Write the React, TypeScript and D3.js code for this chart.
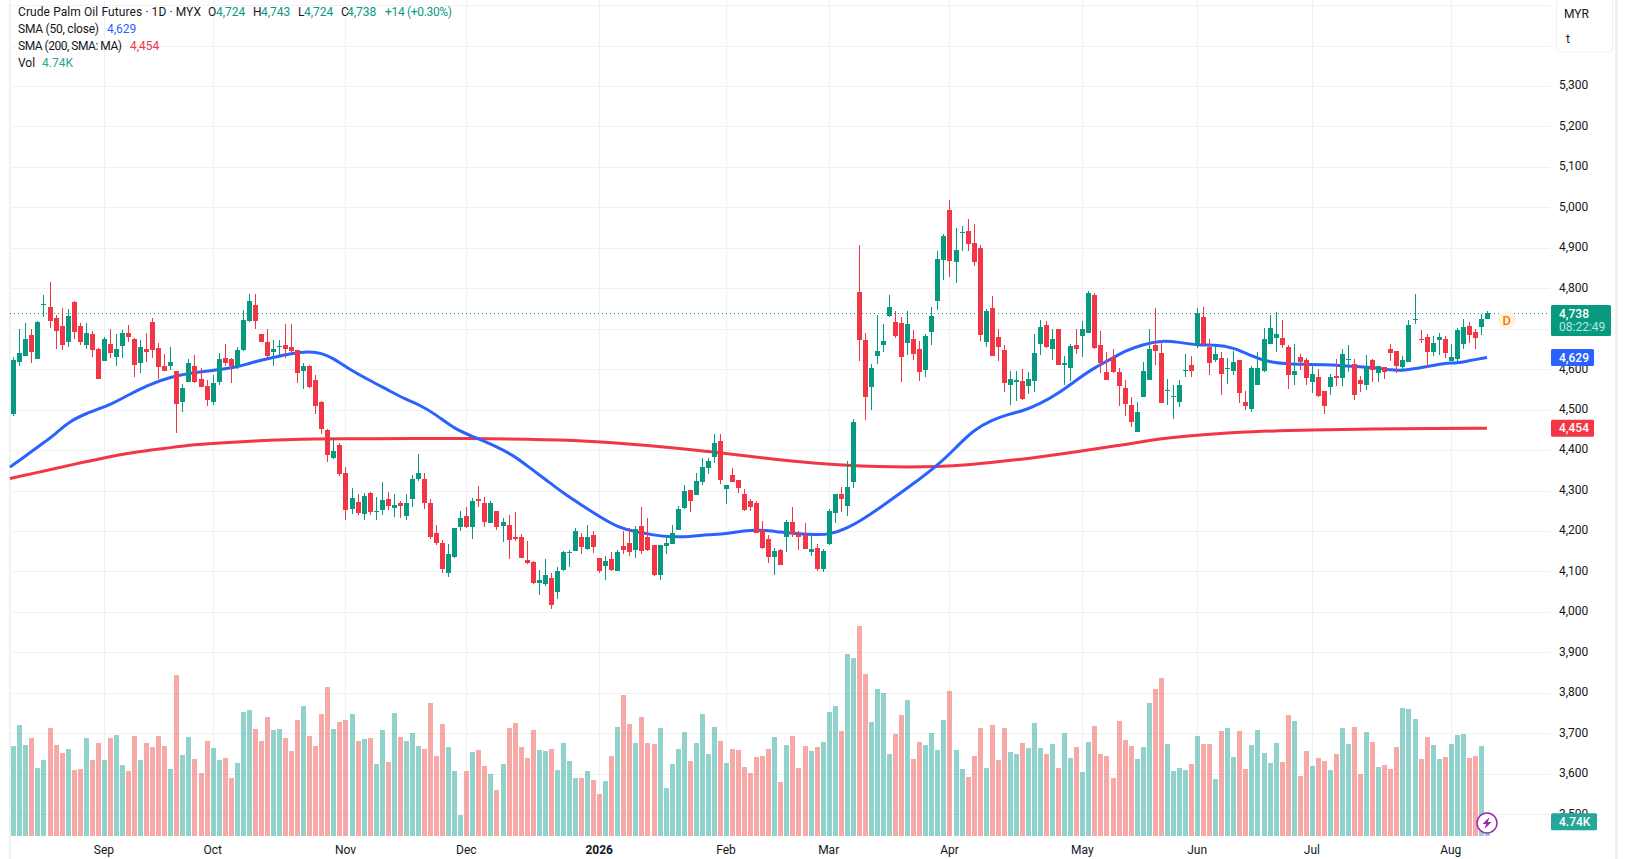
import React, { useEffect, useRef } from 'react';
import * as d3 from 'd3';

// Daily bars, oldest first
const opens = [
  4490,4618,4633,4685,4625,4760,4754,4727,4707,4667,4766,4707,4660,4687,4650,4620,4662,4630,4657,4690,
  4675,4615,4650,4717,4652,4608,4608,4596,4519,4568,4608,4576,4559,4519,4568,4628,4625,4606,4648,4719,
  4759,4687,4667,4643,4655,4660,4655,4648,4596,4608,4573,4519,4450,4381,4413,4344,4255,4272,4242,4294,
  4247,4252,4279,4257,4270,4236,4280,4329,4329,4270,4196,4171,4097,4137,4211,4236,4211,4280,4270,4221,
  4250,4213,4216,4186,4184,4129,4124,4072,4070,4085,4050,4104,4146,4151,4186,4156,4189,4134,4114,4132,
  4102,4164,4171,4154,4213,4186,4166,4092,4164,4169,4203,4258,4302,4290,4322,4357,4384,4423,4305,4339,
  4327,4292,4275,4270,4203,4181,4137,4154,4184,4223,4193,4191,4149,4159,4105,4168,4245,4291,4261,4320,
  4791,4672,4556,4633,4660,4732,4717,4714,4665,4675,4650,4598,4692,4769,4870,4994,4865,4937,4942,4912,
  4900,4667,4751,4680,4648,4561,4568,4571,4559,4571,4662,4709,4650,4699,4610,4603,4660,4682,4690,4784,
  4660,4593,4630,4593,4554,4512,4446,4532,4573,4660,4640,4546,4532,4520,4596,4610,4660,4729,4655,4623,
  4628,4601,4596,4623,4520,4502,4561,4596,4662,4677,4677,4655,4586,4630,4623,4568,4581,4545,4556,4583,
  4578,4623,4613,4573,4561,4623,4591,4606,4650,4645,4606,4618,4722,4674,4680,4643,4672,4675,4620,4625,
  4662,4707,4692,4704,4724,
];
const highs = [
  4630,4700,4714,4700,4719,4784,4816,4734,4751,4749,4769,4714,4714,4695,4652,4680,4700,4687,4697,4709,
  4677,4672,4690,4727,4665,4638,4655,4596,4564,4625,4635,4603,4573,4586,4640,4662,4628,4655,4746,4786,
  4786,4687,4700,4672,4672,4712,4712,4648,4615,4610,4586,4521,4452,4428,4418,4358,4306,4292,4293,4297,
  4284,4321,4297,4292,4273,4292,4339,4391,4344,4280,4216,4179,4169,4208,4250,4260,4281,4312,4285,4273,
  4250,4233,4240,4248,4193,4176,4126,4104,4132,4097,4111,4151,4154,4207,4196,4216,4201,4134,4139,4149,
  4154,4201,4208,4213,4260,4233,4166,4166,4191,4216,4263,4315,4302,4344,4381,4381,4441,4441,4315,4357,
  4327,4305,4280,4275,4226,4189,4159,4156,4228,4260,4201,4221,4193,4169,4155,4254,4291,4308,4372,4476,
  4907,4690,4613,4734,4712,4784,4744,4729,4744,4697,4670,4687,4754,4892,4934,5018,4949,4954,4971,4959,
  4907,4749,4781,4699,4660,4596,4596,4601,4593,4687,4722,4719,4699,4699,4633,4662,4699,4719,4793,4788,
  4695,4643,4650,4603,4573,4532,4520,4618,4699,4751,4672,4576,4561,4573,4638,4633,4751,4754,4675,4660,
  4643,4628,4645,4623,4545,4608,4643,4702,4734,4741,4722,4660,4662,4638,4628,4610,4601,4546,4588,4625,
  4650,4660,4625,4583,4635,4625,4608,4606,4662,4645,4633,4722,4786,4697,4687,4682,4690,4682,4662,4702,
  4724,4717,4699,4736,4743,
];
const lows = [
  4485,4608,4632,4615,4625,4729,4702,4650,4648,4655,4675,4660,4650,4630,4576,4620,4628,4608,4628,4667,
  4581,4591,4618,4628,4576,4596,4598,4442,4494,4568,4566,4556,4509,4512,4561,4608,4566,4601,4645,4717,
  4700,4667,4628,4608,4635,4628,4643,4566,4551,4554,4489,4440,4371,4378,4336,4227,4242,4240,4227,4240,
  4227,4240,4252,4234,4233,4228,4260,4324,4255,4181,4166,4095,4087,4134,4201,4208,4181,4260,4211,4219,
  4203,4174,4132,4176,4134,4119,4070,4042,4065,4007,4032,4102,4112,4151,4142,4154,4146,4095,4080,4102,
  4102,4142,4139,4134,4142,4151,4090,4080,4144,4169,4203,4255,4248,4290,4315,4342,4367,4317,4268,4320,
  4295,4250,4250,4195,4156,4122,4092,4115,4149,4184,4154,4156,4139,4102,4098,4165,4219,4246,4236,4306,
  4620,4475,4499,4613,4643,4729,4677,4568,4635,4623,4571,4581,4660,4746,4821,4828,4813,4892,4892,4855,
  4670,4655,4633,4620,4544,4512,4521,4524,4539,4544,4635,4652,4623,4610,4561,4571,4638,4630,4690,4650,
  4591,4573,4591,4509,4485,4458,4446,4532,4573,4610,4517,4512,4478,4507,4581,4581,4653,4657,4586,4618,
  4537,4564,4586,4517,4500,4493,4561,4593,4662,4643,4652,4551,4561,4598,4561,4540,4532,4490,4536,4559,
  4559,4593,4525,4544,4549,4568,4568,4576,4620,4591,4596,4618,4712,4666,4603,4633,4635,4628,4620,4618,
  4650,4665,4650,4685,4724,
];
const closes = [
  4623,4640,4675,4643,4717,4761,4719,4695,4660,4732,4692,4667,4690,4648,4576,4675,4640,4650,4690,4680,
  4610,4655,4643,4648,4606,4596,4618,4514,4554,4615,4568,4556,4524,4566,4625,4615,4608,4648,4722,4769,
  4719,4667,4633,4650,4657,4650,4645,4591,4608,4556,4509,4452,4388,4398,4341,4252,4282,4245,4287,4247,
  4250,4277,4262,4264,4263,4270,4329,4344,4270,4184,4171,4107,4142,4208,4233,4211,4275,4273,4223,4270,
  4211,4223,4179,4181,4134,4122,4072,4080,4092,4017,4102,4149,4149,4201,4161,4186,4161,4102,4127,4104,
  4149,4154,4149,4206,4151,4154,4092,4166,4171,4196,4255,4300,4273,4324,4359,4374,4418,4326,4315,4320,
  4307,4253,4260,4196,4159,4137,4151,4117,4223,4193,4186,4156,4156,4107,4150,4249,4291,4278,4308,4469,
  4672,4531,4603,4645,4670,4754,4682,4630,4712,4638,4593,4682,4732,4873,4929,4868,4895,4939,4910,4865,
  4685,4744,4633,4655,4566,4576,4573,4526,4576,4640,4704,4655,4675,4610,4615,4657,4650,4699,4788,4653,
  4615,4573,4593,4559,4515,4470,4495,4596,4650,4645,4517,4549,4535,4561,4598,4596,4739,4662,4615,4638,
  4588,4603,4618,4540,4510,4604,4603,4675,4702,4687,4660,4586,4596,4618,4578,4588,4535,4510,4581,4578,
  4638,4625,4537,4564,4606,4598,4608,4593,4640,4608,4623,4709,4724,4672,4643,4665,4680,4640,4630,4697,
  4704,4685,4677,4724,4738,
];
// Volume in thousands of lots
const volumes = [
  29.8,36.8,30.2,32.5,22.5,25.2,35.8,30.2,27.5,28.8,21.9,22.2,32.5,25.2,30.8,25.2,32.5,33.5,23.5,21.5,
  33.1,25.2,30.8,29.5,33.1,29.8,22.2,53.4,26.9,32.8,25.5,20.9,31.5,29.2,25.2,25.9,19.2,24.2,41.1,41.8,
  35.5,31.5,39.4,35.1,35.5,32.5,28.2,38.5,43.1,33.1,29.8,40.4,49.4,35.5,37.8,38.5,40.4,31.5,32.2,32.5,
  23.9,35.1,24.5,40.8,32.8,31.5,34.1,29.8,28.8,44.1,26.5,37.1,29.5,21.5,7.0,21.5,27.8,28.5,23.2,20.6,
  15.2,23.9,35.8,37.5,29.5,25.9,35.1,28.5,28.2,28.8,21.9,30.8,24.9,19.2,19.2,21.5,18.6,13.9,18.2,26.5,
  36.1,46.7,37.1,30.8,39.4,30.8,30.5,35.8,15.9,23.9,28.8,34.5,24.9,30.8,40.4,27.2,36.1,31.5,24.2,28.8,
  28.5,22.9,20.9,26.2,26.5,28.8,32.8,17.9,30.2,33.1,22.5,29.8,28.2,29.5,31.2,41.1,43.1,34.8,60.3,59.0,
  69.6,53.7,37.8,48.7,47.4,27.2,33.8,40.1,45.1,25.5,31.2,30.2,34.1,28.5,38.5,48.1,28.5,22.2,19.6,26.5,
  35.8,22.5,36.8,25.2,35.8,27.8,27.2,30.8,29.2,37.5,29.2,27.2,30.5,22.5,34.1,25.9,29.5,21.2,31.2,36.5,
  27.2,26.5,19.2,38.1,31.8,29.8,25.5,29.5,44.1,48.7,52.4,30.5,21.5,22.5,21.9,23.9,33.1,30.5,30.5,18.9,
  34.8,35.8,26.2,34.8,22.2,30.2,35.1,27.5,24.2,30.8,24.5,40.1,38.1,19.9,28.2,23.2,25.9,24.9,21.9,27.2,
  35.8,30.5,36.1,20.6,34.5,31.2,22.9,23.5,22.2,29.5,42.4,42.1,38.8,25.5,32.8,30.2,25.5,26.2,30.5,33.5,
  33.8,25.9,26.5,29.8,4.74,
];

// Moving averages, read at every few bars
const sma50Bars = [-0.55,3,5,7,9,12,16,19,22,26,31,37,39,43,46,49,51,53,55,59,62,65,67,70,73,76,80,83,85,88,91,94,97,100,103,106,109,112,115,118,121,124,127,130,133,135,138,141,144,147,150,153,156,159,162,165,167,170,173,176,179,182,184,187,190,193,196,199,202,205,208,211,214,217,220,223,226,228,230,234,237,239,241,244];
const sma50Values = [4358,4396,4418,4440,4468,4491,4511,4536,4559,4582,4594,4604,4615,4629,4639,4644,4640,4627,4606,4572,4549,4525,4514,4488,4453,4434,4409,4385,4362,4329,4294,4265,4236,4210,4198,4190,4185,4186,4191,4193,4201,4203,4197,4193,4191,4191,4206,4232,4263,4295,4328,4362,4405,4450,4474,4490,4496,4514,4540,4573,4604,4627,4645,4661,4671,4667,4659,4661,4654,4633,4617,4613,4612,4611,4609,4606,4603,4598,4596,4606,4615,4615,4621,4629];
const sma200Bars = [-0.55,5,10,15,20,25,30,35,40,45,50,55,60,65,75,85,95,105,115,125,133,138,143,148,153,158,163,168,175,183,190,196,205,215,225,235,244];
const sma200Values = [4330,4348,4365,4381,4395,4404,4414,4418,4423,4426,4428,4428,4428,4429,4429,4427,4423,4412,4397,4379,4367,4362,4359,4358,4359,4363,4371,4379,4394,4411,4429,4437,4446,4450,4452,4454,4454];

const priceTicks = [5300,5200,5100,5000,4900,4800,4700,4600,4500,4400,4300,4200,4100,4000,3900,3800,3700,3600,3500];
const gridOnlyTicks = [5500,5400];
const monthLabels = ['Sep','Oct','Nov','Dec','2026','Feb','Mar','Apr','May','Jun','Jul','Aug'];
const monthBars = [15,33,55,75,97,118,135,155,177,196,215,238];

const UP = '#089981';
const DOWN = '#f23645';
const BLUE = '#2962ff';
const FONT = 'Roboto, sans-serif';

const App: React.FC = () => {
  const svgRef = useRef<SVGSVGElement>(null);

  useEffect(() => {
    if (!svgRef.current) return;
    const svg = d3.select(svgRef.current);
    svg.selectAll('*').remove();

    const plotLeft = 10;
    const plotRight = 1550;
    const plotBottom = 836;

    const x = d3.scaleLinear().domain([0, 244]).range([13.3, 1487]);
    const y = d3.scaleLinear().domain([3500, 4800]).range([814.2, 288.3]);
    const yVol = d3.scaleLinear().domain([0, 100]).range([plotBottom, plotBottom - 302]);

    // Grid
    const grid = svg.append('g').attr('stroke', '#f0f1f3').attr('shape-rendering', 'crispEdges');
    [...gridOnlyTicks, ...priceTicks].forEach(t => {
      grid.append('line').attr('x1', plotLeft).attr('x2', plotRight)
        .attr('y1', Math.round(y(t)) + 0.5).attr('y2', Math.round(y(t)) + 0.5);
    });
    monthBars.forEach(b => {
      grid.append('line').attr('x1', Math.round(x(b)) + 0.5).attr('x2', Math.round(x(b)) + 0.5)
        .attr('y1', 0).attr('y2', plotBottom);
    });

    // Frame strips left and right of the pane
    svg.append('rect').attr('x', 9).attr('y', 0).attr('width', 2).attr('height', 859).attr('fill', '#f0f1f3');
    svg.append('rect').attr('x', 1615).attr('y', 0).attr('width', 3).attr('height', 859).attr('fill', '#f0f1f3');

    // Volume
    svg.append('g').attr('shape-rendering', 'crispEdges').selectAll('rect').data(volumes).enter().append('rect')
      .attr('x', (_, i) => Math.round(x(i)) - 2)
      .attr('width', 5)
      .attr('y', d => yVol(d))
      .attr('height', d => plotBottom - yVol(d))
      .attr('fill', (_, i) => closes[i] >= opens[i] ? 'rgba(38,166,154,0.5)' : 'rgba(239,83,80,0.5)');

    // Moving averages
    const drawSma = (bars: number[], values: number[], color: string) => {
      const path = d3.line<number>()
        .x(d => x(d))
        .y((_, i) => y(values[i]))
        .curve(d3.curveBasis);
      svg.append('path').attr('d', path(bars)).attr('fill', 'none')
        .attr('stroke', color).attr('stroke-width', 3);
    };
    drawSma(sma200Bars, sma200Values, DOWN);
    drawSma(sma50Bars, sma50Values, BLUE);

    // Candles
    const candles = svg.append('g').attr('shape-rendering', 'crispEdges').selectAll('g').data(closes).enter().append('g')
      .attr('fill', (c, i) => c >= opens[i] ? UP : DOWN);
    candles.append('rect')
      .attr('x', (_, i) => Math.round(x(i)))
      .attr('width', 1)
      .attr('y', (_, i) => y(highs[i]))
      .attr('height', (_, i) => y(lows[i]) - y(highs[i]));
    candles.append('rect')
      .attr('x', (_, i) => Math.round(x(i)) - 2)
      .attr('width', 5)
      .attr('y', (c, i) => y(Math.max(c, opens[i])))
      .attr('height', (c, i) => Math.max(1, Math.abs(y(c) - y(opens[i]))));

    // Last price line
    const last = closes[closes.length - 1];
    svg.append('line').attr('x1', plotLeft).attr('x2', plotRight)
      .attr('y1', Math.round(y(last)) + 0.5).attr('y2', Math.round(y(last)) + 0.5)
      .attr('stroke', UP).attr('stroke-width', 1).attr('stroke-dasharray', '1 3');

    // Price axis (4,700 sits under the last price tag)
    const axisText = svg.append('g').attr('font-family', FONT).attr('font-size', 12).attr('fill', '#131722');
    priceTicks.filter(t => t !== 4700).forEach(t => {
      axisText.append('text').attr('x', 1559).attr('y', y(t) + 3.3).text(d3.format(',')(t));
    });

    // Time axis
    monthLabels.forEach((m, i) => {
      axisText.append('text').attr('x', x(monthBars[i])).attr('y', 854)
        .attr('text-anchor', 'middle')
        .attr('font-weight', m === '2026' ? 700 : 400)
        .text(m);
    });

    // Currency / unit box
    svg.append('rect').attr('x', 1556.5).attr('y', -2).attr('width', 56).attr('height', 54).attr('rx', 4)
      .attr('fill', '#fff').attr('stroke', '#f0f1f3');
    svg.append('text').attr('x', 1564).attr('y', 18).attr('font-family', FONT).attr('font-size', 12).attr('fill', '#131722').text('MYR');
    svg.append('text').attr('x', 1566).attr('y', 43).attr('font-family', FONT).attr('font-size', 12).attr('fill', '#131722').text('t');

    // Value tags on the axis
    const tag = (value: number, label: string, color: string, w: number, scale = y) => {
      const cy = scale(value);
      svg.append('rect').attr('x', 1551).attr('y', cy - 8.5).attr('width', w).attr('height', 17).attr('rx', 1.5).attr('fill', color);
      svg.append('text').attr('x', 1559).attr('y', cy + 4.2).attr('font-family', FONT).attr('font-size', 12).attr('font-weight', 500).attr('fill', '#fff').text(label);
    };
    svg.append('rect').attr('x', 1551).attr('y', y(last) - 8.5).attr('width', 60).attr('height', 31).attr('rx', 1.5).attr('fill', UP);
    svg.append('text').attr('x', 1559).attr('y', y(last) + 4.2).attr('font-family', FONT).attr('font-size', 12).attr('font-weight', 500).attr('fill', '#fff').text('4,738');
    svg.append('text').attr('x', 1559).attr('y', y(last) + 18).attr('font-family', FONT).attr('font-size', 12).attr('fill', '#bfe5de').text('08:22:49');
    tag(sma50Values[sma50Values.length - 1], '4,629', BLUE, 43);
    tag(sma200Values[sma200Values.length - 1], '4,454', DOWN, 43);
    tag(volumes[volumes.length - 1], '4.74K', '#26a69a', 46, yVol);

    // Daily marker
    svg.append('circle').attr('cx', 1506.7).attr('cy', 320).attr('r', 9).attr('fill', '#fff3e0');
    svg.append('text').attr('x', 1506.7).attr('y', 324.5).attr('text-anchor', 'middle')
      .attr('font-family', FONT).attr('font-size', 13).attr('font-weight', 500).attr('fill', '#f57c00').text('D');

    // Lightning button over the last volume bar
    const bolt = svg.append('g').attr('transform', 'translate(1487,823)');
    bolt.append('circle').attr('r', 10).attr('fill', '#fff').attr('stroke', '#9c27b0').attr('stroke-width', 1.5);
    bolt.append('path').attr('d', 'M2.5,-6 L-4.5,1 L-0.8,1 L-2.5,6 L4.5,-1 L0.8,-1 Z').attr('fill', '#9c27b0');

    // Legend
    const legend = svg.append('g').attr('font-family', FONT).attr('font-size', 12);
    const row = (yPos: number, parts: [string, string, number, number?][]) => {
      parts.forEach(([text, color, xPos, fitWidth]) => {
        const t = legend.append('text').attr('x', xPos).attr('y', yPos).attr('fill', color).text(text);
        if (fitWidth) t.attr('textLength', fitWidth).attr('lengthAdjust', 'spacing');
      });
    };
    row(16, [
      ['Crude Palm Oil Futures · 1D · MYX', '#131722', 18, 183],
      ['O', '#131722', 208], ['4,724', UP, 216],
      ['H', '#131722', 253], ['4,743', UP, 261],
      ['L', '#131722', 298], ['4,724', UP, 304],
      ['C', '#131722', 341], ['4,738', UP, 347],
      ['+14 (+0.30%)', UP, 385, 67],
    ]);
    row(33, [['SMA (50, close)', '#131722', 18, 81], ['4,629', BLUE, 107]]);
    row(50, [['SMA (200, SMA: MA)', '#131722', 18, 104], ['4,454', DOWN, 130]]);
    row(67, [['Vol', '#131722', 18], ['4.74K', '#26a69a', 42]]);
  }, []);

  return <svg ref={svgRef} width={1626} height={859} style={{ position: 'absolute', left: 0, top: 0, display: 'block', background: '#fff' }} />;
};

export default App;
